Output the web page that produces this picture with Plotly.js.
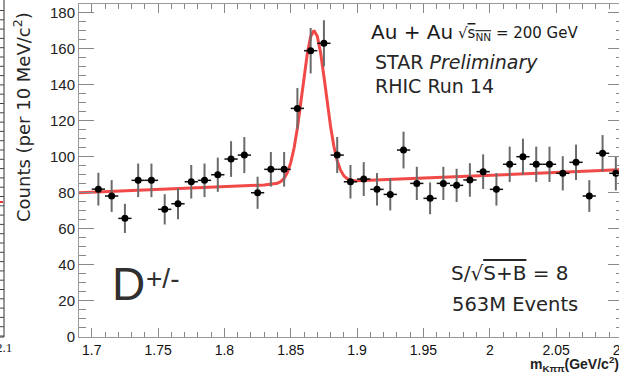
<!DOCTYPE html>
<html>
<head>
<meta charset="utf-8">
<script src="https://cdn.plot.ly/plotly-3.0.1.min.js"></script>
<style>
  html, body { margin: 0; padding: 0; overflow: hidden; background: #fff; }
  #chart { width: 623px; height: 375px; }
</style>
</head>
<body>
<div id="chart"></div>
<script>
// K-pi-pi invariant mass, 10 MeV bins
const binCenters = [1.705, 1.715, 1.725, 1.735, 1.745, 1.755, 1.765, 1.775, 1.785, 1.795,
                    1.805, 1.815, 1.825, 1.835, 1.845, 1.855, 1.865, 1.875, 1.885, 1.895,
                    1.905, 1.915, 1.925, 1.935, 1.945, 1.955, 1.965, 1.975, 1.985, 1.995,
                    2.005, 2.015, 2.025, 2.035, 2.045, 2.055, 2.065, 2.075, 2.085, 2.095];
const counts = [82.0, 78.2, 65.8, 86.9, 86.9, 70.8, 73.9, 86.1, 86.9, 90.0,
                98.7, 100.9, 80.0, 93.0, 93.0, 126.8, 158.8, 162.9, 100.9, 86.1,
                87.6, 81.9, 79.1, 103.7, 85.2, 76.9, 85.2, 84.1, 87.1, 91.7,
                81.9, 95.8, 100.0, 95.8, 95.8, 90.8, 96.9, 78.2, 101.9, 90.8];
const countErrors = [9.1, 8.8, 8.1, 9.3, 9.3, 8.4, 8.6, 9.3, 9.3, 9.5,
                     9.9, 10.0, 8.9, 9.6, 9.6, 11.3, 12.6, 12.8, 10.0, 9.3,
                     9.4, 9.0, 8.9, 10.2, 9.2, 8.8, 9.2, 9.2, 9.3, 9.6,
                     9.0, 9.8, 10.0, 9.8, 9.8, 9.5, 9.8, 8.8, 10.1, 9.5];
const binHalfWidth = [0.005];

// Fitted signal + background curve
const fitMass = [1.690, 1.760, 1.830, 1.840, 1.8425, 1.845, 1.8475, 1.850, 1.8525, 1.855,
                 1.8575, 1.860, 1.8625, 1.865, 1.8675, 1.870, 1.8725, 1.875, 1.8775, 1.880,
                 1.8825, 1.885, 1.8875, 1.890, 1.8925, 1.895, 1.900, 1.950, 2.000, 2.050, 2.100];
const fitCounts = [80.0, 82.2, 84.3, 85.3, 86.2, 88.0, 91.3, 96.7, 104.8, 115.9,
                   129.5, 144.1, 157.3, 166.6, 170.0, 166.8, 157.6, 144.5, 130.1, 116.7,
                   105.8, 97.7, 92.5, 89.4, 87.8, 87.0, 86.6, 88.1, 89.7, 91.2, 92.8];

const xTickVals = [1.7, 1.75, 1.8, 1.85, 1.9, 1.95, 2.0, 2.05, 2.1];
const xTickLabels = ['1.7', '1.75', '1.8', '1.85', '1.9', '1.95', '2', '2.05', '2.1'];
const yTickVals = [0, 20, 40, 60, 80, 100, 120, 140, 160, 180];
const yTickLabels = ['0', '20', '40', '60', '80', '100', '120', '140', '160', '180'];

// plot frame in pixels: left 79, right 623, top 4, bottom 337
const L = 79, R = 623, T = 4, B = 337;
const px = x => (x - L) / (R - L);
const py = y => (B - y) / (B - T);

const fitTrace = {
  x: fitMass, y: fitCounts, type: 'scatter', mode: 'lines',
  line: { color: 'rgba(238,40,40,0.85)', width: 3 },
  hoverinfo: 'skip'
};

const dataTrace = {
  x: binCenters, y: counts, type: 'scatter', mode: 'markers',
  marker: { color: '#000', size: 7 },
  error_y: { type: 'data', array: countErrors, visible: true, color: '#6a6a6a', thickness: 2, width: 0 },
  error_x: { type: 'constant', value: binHalfWidth[0], visible: true, color: '#111', thickness: 1.5, width: 0 }
};

const txt = '#262626';
const dv = 'DejaVu Sans';

const layout = {
  width: 623, height: 375,
  margin: { l: L, r: 0, t: T, b: 375 - B, pad: 0 },
  paper_bgcolor: '#fff', plot_bgcolor: '#fff',
  showlegend: false,
  xaxis: {
    range: [1.6904, 2.1004],
    tickmode: 'array', tickvals: xTickVals, ticktext: xTickLabels,
    ticklabeloverflow: 'allow',
    ticks: 'inside', ticklen: 9, tickwidth: 1, tickcolor: '#888',
    minor: { dtick: 0.01, tick0: 1.7, ticks: 'inside', ticklen: 5, tickcolor: '#888', tickwidth: 1 },
    showline: true, linecolor: '#9a9a9a', linewidth: 1, mirror: 'ticks',
    showgrid: false, zeroline: false,
    tickfont: { family: 'Liberation Sans', size: 14, color: '#111' }
  },
  yaxis: {
    range: [0, 184.7],
    tickmode: 'array', tickvals: yTickVals, ticktext: yTickLabels,
    ticks: 'inside', ticklen: 15, tickwidth: 1, tickcolor: '#888',
    minor: { dtick: 5, tick0: 0, ticks: 'inside', ticklen: 7, tickcolor: '#888', tickwidth: 1 },
    showline: true, linecolor: '#9a9a9a', linewidth: 1, mirror: 'ticks',
    showgrid: false, zeroline: false,
    tickfont: { family: 'Liberation Sans', size: 15, color: '#222' }
  },
  annotations: [
    { text: 'Au + Au', x: px(369), y: py(32), xanchor: 'left', yanchor: 'middle',
      font: { family: dv, size: 20, color: '#1a1a1a' } },
    { text: "√<span style='text-decoration:overline'>s<sub>NN</sub></span> = 200 GeV",
      x: px(456), y: py(33), xanchor: 'left', yanchor: 'middle',
      font: { family: dv, size: 15, color: '#1a1a1a' } },
    { text: 'STAR <i>Preliminary</i>', x: px(373), y: py(62), xanchor: 'left', yanchor: 'middle',
      font: { family: dv, size: 19, color: txt } },
    { text: 'RHIC Run 14', x: px(373), y: py(86), xanchor: 'left', yanchor: 'middle',
      font: { family: dv, size: 19, color: txt } },
    { text: 'D', x: px(110), y: py(284), xanchor: 'left', yanchor: 'middle',
      font: { family: 'Liberation Sans', size: 46, color: '#303030' } },
    { text: '+/-', x: px(144), y: py(278), xanchor: 'left', yanchor: 'middle',
      font: { family: 'Liberation Sans', size: 28, color: '#303030' } },
    { text: "S/√<span style='text-decoration:overline'>S+B</span> = 8", x: px(449), y: py(273),
      xanchor: 'left', yanchor: 'middle', font: { family: dv, size: 20, color: txt } },
    { text: '563M Events', x: px(450), y: py(304), xanchor: 'left', yanchor: 'middle',
      font: { family: dv, size: 19.5, color: txt } },
    { text: 'Counts (per 10 MeV/c<sup>2</sup>)', x: px(22), y: py(117), textangle: -90,
      xanchor: 'center', yanchor: 'middle', font: { family: dv, size: 18, color: txt } },
    { text: '<b>m<sub>Kππ</sub>(GeV/c<sup>2</sup>)</b>', x: px(528), y: py(364),
      xanchor: 'left', yanchor: 'middle', font: { family: 'Liberation Sans', size: 14, color: '#222' } },
    { text: '2.1', x: px(14), y: py(347), xanchor: 'right', yanchor: 'middle',
      font: { family: 'Liberation Serif', size: 13, color: '#222' } }
  ].map(a => Object.assign({ xref: 'paper', yref: 'paper', showarrow: false }, a))
};

// left neighbour panel: frame edge, tick marks and fit stub
layout.shapes = [
  { type: 'line', xref: 'paper', yref: 'paper', x0: px(4), x1: px(4), y0: py(0), y1: py(337),
    line: { color: '#333', width: 1 } },
  { type: 'line', xref: 'paper', yref: 'paper', x0: px(0), x1: px(4), y0: py(337), y1: py(337),
    line: { color: '#333', width: 1 } },
  { type: 'line', xref: 'paper', yref: 'paper', x0: px(0), x1: px(3), y0: py(202), y1: py(202),
    line: { color: '#e33', width: 2 } }
];
for (let i = 0; i < 36; i++) {
  const yy = 336 - i * 9.3;
  layout.shapes.push({ type: 'line', xref: 'paper', yref: 'paper', x0: px(0), x1: px(4),
    y0: py(yy), y1: py(yy), line: { color: '#444', width: 1 } });
}

Plotly.newPlot('chart', [fitTrace, dataTrace], layout, { staticPlot: true, displayModeBar: false });
</script>
</body>
</html>
